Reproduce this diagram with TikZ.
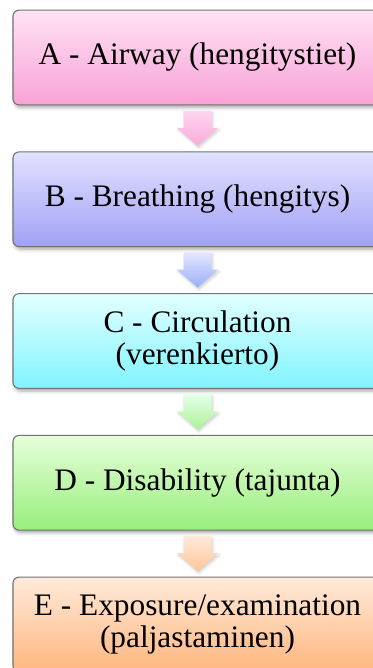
\documentclass[tikz,border=0pt]{standalone}
\usepackage{fontspec}
\setmainfont{Liberation Serif}
\usepackage{tikz}
\usetikzlibrary{calc,shadows.blur}

\definecolor{pinkTop}{HTML}{FFE2F4}
\definecolor{pinkBot}{HTML}{F8A2D6}
\definecolor{blueTop}{HTML}{E2E2FF}
\definecolor{blueBot}{HTML}{A0A0F6}
\definecolor{cyanTop}{HTML}{E2FFFF}
\definecolor{cyanBot}{HTML}{80F4FF}
\definecolor{greenTop}{HTML}{E6FFDA}
\definecolor{greenBot}{HTML}{98EE7C}
\definecolor{peachTop}{HTML}{FFEADA}
\definecolor{peachBot}{HTML}{FFB67E}

% block arrow between two boxes: from, to, top colour, bottom colour
\newcommand{\downblock}[4]{%
  \shade[top color=#3, bottom color=#4,
    blur shadow={shadow xshift=1pt, shadow yshift=-1.5pt, shadow blur radius=2pt, shadow opacity=20}]
    ($(#1.south)!0.5!(#2.north)$) ++(-14,-17.5) -- ++(28,0) -- ++(0,17) -- ++(6.5,0)
    -- ++(-20.5,18) -- ++(-20.5,-18) -- ++(6.5,0) -- cycle;}

\begin{document}
\begin{tikzpicture}[x=0.75pt,y=0.75pt,yscale=-1,xscale=1,
  abcbox/.style={draw=black!55, line width=0.8pt, rounded corners=4.5pt,
    minimum width=276.75pt, minimum height=71pt, inner sep=0pt, align=center,
    font=\fontsize{23.5}{23.5}\selectfont,
    blur shadow={shadow xshift=1.2pt, shadow yshift=-2pt, shadow blur radius=2.5pt, shadow opacity=35}}]
\path[use as bounding box] (0,0) rectangle (373,668);

% Boxes
\node (A) [abcbox, top color=pinkTop, bottom color=pinkBot] at (197.5,57.5) {A - Airway (hengitystiet)};
\node (B) [abcbox, top color=blueTop, bottom color=blueBot] at (197.5,199.25) {B - Breathing (hengitys)};
\node (C) [abcbox, top color=cyanTop, bottom color=cyanBot] at (197.5,341) {C - Circulation\\(verenkierto)};
\node (D) [abcbox, top color=greenTop, bottom color=greenBot] at (197.5,482.75) {D - Disability (tajunta)};
\node (E) [abcbox, top color=peachTop, bottom color=peachBot] at (197.5,624.5) {E - Exposure/examination\\(paljastaminen)};

% Block arrows
\downblock{A}{B}{pinkTop!80!pinkBot}{pinkBot!90!white}
\downblock{B}{C}{blueTop!85!cyanTop}{blueBot!80!cyanBot}
\downblock{C}{D}{cyanTop!40!greenTop}{greenBot!80!white}
\downblock{D}{E}{peachTop}{peachBot!80!white}

\end{tikzpicture}
\end{document}
